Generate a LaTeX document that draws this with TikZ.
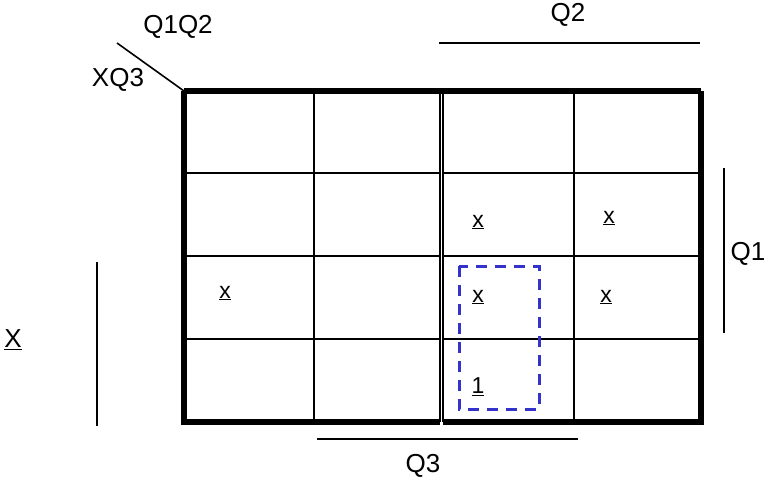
\documentclass[tikz,border=0pt]{standalone}
\usepackage{fontspec}
\setmainfont{Liberation Sans}
\usetikzlibrary{positioning}
\definecolor{groupblue}{RGB}{51,51,204}

\begin{document}
\begin{tikzpicture}[x=1pt, y=-1pt,
    thin line/.style={line width=2.6pt},
    thick line/.style={line width=5.5pt},
    bar/.style={line width=1.6pt},
    label/.style={font=\fontsize{26}{29}\selectfont, inner sep=0pt},
    entry/.style={font=\fontsize{23}{26}\selectfont, inner sep=0pt},
    group/.style={draw=groupblue, line width=3pt, dash pattern=on 11pt off 8pt},
  ]
  \useasboundingbox (0,0) rectangle (764,479);

  % --- map cells (two halves of the map) ---
  \foreach \y in {173,256,339} {
    \draw[thin line] (184,\y) -- (440,\y);
    \draw[thin line] (443,\y) -- (701,\y);
  }
  \draw[thin line] (314,91) -- (314,422);
  \draw[thin line] (574,91) -- (574,422);
  \draw[thin line] (440,91) -- (440,422);
  \draw[thin line] (443,91) -- (443,422);

  % --- outer border ---
  \draw[thick line] (184,91) -- (701,91);
  \draw[thick line] (184,91) -- (184,422) -- (440,422);
  \draw[thick line] (443,422) -- (701,422) -- (701,91);

  % --- corner labels ---
  \coordinate (c1) at (117,43);
  \coordinate (c2) at (184,91);
  \draw[bar] (c1) -- (c2);
  \node[label] (q1q2) at (178,27) {Q1Q2};
  \node[label] (xq3) at (118,80) {XQ3};

  % --- variable bars ---
  \coordinate (q2a) at (439,43);
  \coordinate (q2b) at (700,43);
  \draw[bar] (q2a) -- (q2b);
  \node[label] (q2) at (568,15) {Q2};

  \coordinate (q1a) at (724,168);
  \coordinate (q1b) at (724,333);
  \draw[bar] (q1a) -- (q1b);
  \node[label] (q1) at (748,254) {Q1};

  \coordinate (xa) at (97,262);
  \coordinate (xb) at (97,426);
  \draw[bar] (xa) -- (xb);
  \node[label] (x) at (13,340) {\underline{X}};

  \coordinate (q3a) at (317,439);
  \coordinate (q3b) at (578,439);
  \draw[bar] (q3a) -- (q3b);
  \node[label] (q3) at (423,466) {Q3};

  % --- entries ---
  \node[entry] (e1) at (478,222) {\underline{x}};
  \node[entry] (e2) at (609,218) {\underline{x}};
  \node[entry] (e3) at (225,293) {\underline{x}};
  \node[entry] (e4) at (478,297) {\underline{x}};
  \node[entry] (e5) at (606,297) {\underline{x}};
  \node[entry] (e6) at (478,387) {\underline{1}};

  % --- grouping ---
  \draw[group] (459,266) rectangle (539,409);

\end{tikzpicture}
\end{document}
